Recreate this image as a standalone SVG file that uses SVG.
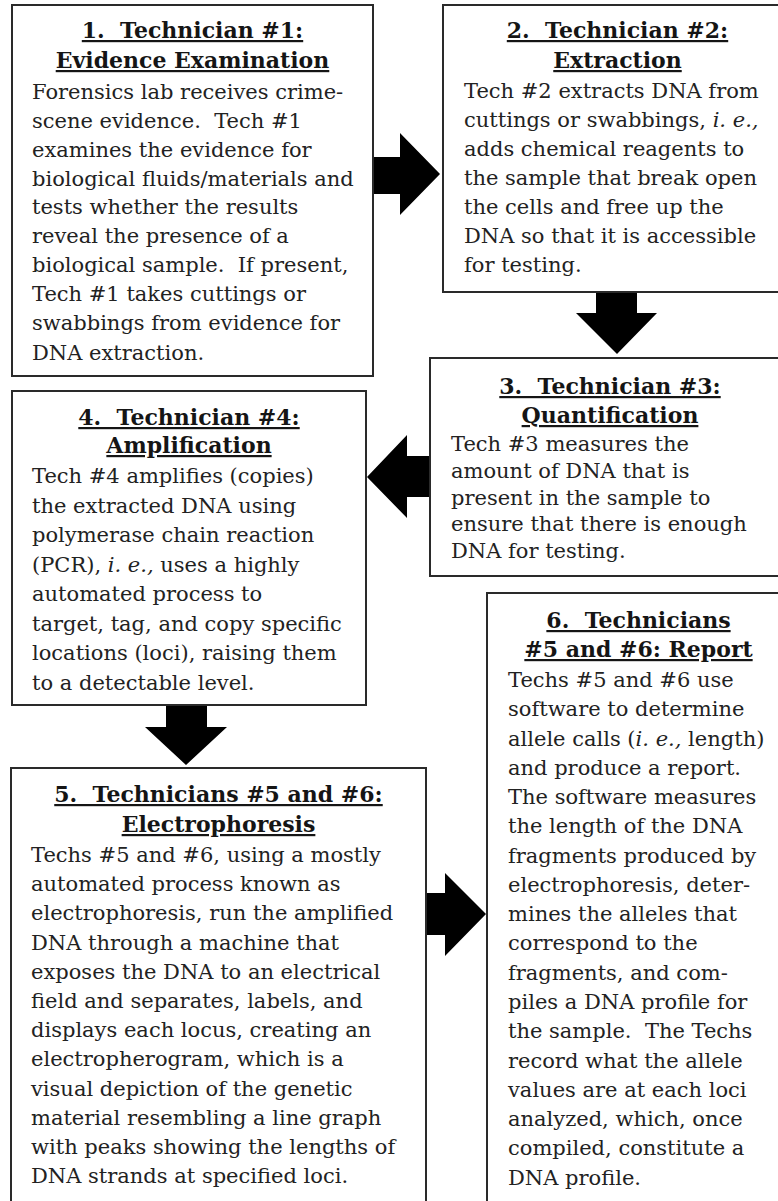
<svg xmlns="http://www.w3.org/2000/svg" width="778" height="1201" viewBox="0 0 778 1201" xml:space="preserve">
<style>
.box{fill:#fff;stroke:#2a2a2a;stroke-width:2}
text{white-space:pre}
.h{font-family:"DejaVu Serif","Liberation Serif",serif;font-size:22px;font-weight:bold;fill:#151515;text-anchor:middle;text-decoration:underline}
.b{font-family:"DejaVu Serif","Liberation Serif",serif;font-size:21px;fill:#222}
.i{font-style:italic}
.arr{fill:#000}
</style>
<rect width="778" height="1201" fill="#fff"/>
<g id="connectors">
<polygon class="arr" points="373,157 400,157 400,133 440,174 400,215 400,194 373,194"/>
<polygon class="arr" points="596,292 637,292 637,313 657,313 617,354 576,313 596,313"/>
<polygon class="arr" points="430,456 407,456 407,435 367,477 407,518 407,497 430,497"/>
<polygon class="arr" points="166,705 207,705 207,727 227,727 186,765 145,727 166,727"/>
<polygon class="arr" points="426,893 445,893 445,873 486,914 445,956 445,935 426,935"/>
</g>
<g id="node1">
<rect class="box" x="12" y="5" width="361" height="371"/>
<text class="h" x="192.5" y="38">1.  Technician #1:</text>
<text class="h" x="192.5" y="68">Evidence Examination</text>
<text class="b" x="32" y="99">Forensics lab receives crime-</text>
<text class="b" x="32" y="128">scene evidence.  Tech #1</text>
<text class="b" x="32" y="157">examines the evidence for</text>
<text class="b" x="32" y="186">biological fluids/materials and</text>
<text class="b" x="32" y="214">tests whether the results</text>
<text class="b" x="32" y="243">reveal the presence of a</text>
<text class="b" x="32" y="272">biological sample.  If present,</text>
<text class="b" x="32" y="301">Tech #1 takes cuttings or</text>
<text class="b" x="32" y="330">swabbings from evidence for</text>
<text class="b" x="32" y="360">DNA extraction.</text>
</g>
<g id="node2">
<rect class="box" x="443" y="5" width="350" height="287"/>
<text class="h" x="617.5" y="38">2.  Technician #2:</text>
<text class="h" x="617.5" y="68">Extraction</text>
<text class="b" x="464" y="98">Tech #2 extracts DNA from</text>
<text class="b" x="464" y="127">cuttings or swabbings, <tspan class="i">i. e.,</tspan></text>
<text class="b" x="464" y="156">adds chemical reagents to</text>
<text class="b" x="464" y="185">the sample that break open</text>
<text class="b" x="464" y="214">the cells and free up the</text>
<text class="b" x="464" y="243">DNA so that it is accessible</text>
<text class="b" x="464" y="272">for testing.</text>
</g>
<g id="node3">
<rect class="box" x="430" y="358" width="362" height="218"/>
<text class="h" x="610" y="394">3.  Technician #3:</text>
<text class="h" x="610" y="423">Quantification</text>
<text class="b" x="451" y="451">Tech #3 measures the</text>
<text class="b" x="451" y="478">amount of DNA that is</text>
<text class="b" x="451" y="505">present in the sample to</text>
<text class="b" x="451" y="531">ensure that there is enough</text>
<text class="b" x="451" y="558">DNA for testing.</text>
</g>
<g id="node4">
<rect class="box" x="12" y="391" width="354" height="314"/>
<text class="h" x="189" y="425">4.  Technician #4:</text>
<text class="h" x="189" y="453">Amplification</text>
<text class="b" x="32" y="483">Tech #4 amplifies (copies)</text>
<text class="b" x="32" y="513">the extracted DNA using</text>
<text class="b" x="32" y="542">polymerase chain reaction</text>
<text class="b" x="32" y="572">(PCR), <tspan class="i">i. e.,</tspan> uses a highly</text>
<text class="b" x="32" y="601">automated process to</text>
<text class="b" x="32" y="631">target, tag, and copy specific</text>
<text class="b" x="32" y="660">locations (loci), raising them</text>
<text class="b" x="32" y="690">to a detectable level.</text>
</g>
<g id="node5">
<rect class="box" x="11" y="768" width="415" height="450"/>
<text class="h" x="218.5" y="802">5.  Technicians #5 and #6:</text>
<text class="h" x="218.5" y="832">Electrophoresis</text>
<text class="b" x="31" y="862">Techs #5 and #6, using a mostly</text>
<text class="b" x="31" y="891">automated process known as</text>
<text class="b" x="31" y="920">electrophoresis, run the amplified</text>
<text class="b" x="31" y="950">DNA through a machine that</text>
<text class="b" x="31" y="979">exposes the DNA to an electrical</text>
<text class="b" x="31" y="1008">field and separates, labels, and</text>
<text class="b" x="31" y="1037">displays each locus, creating an</text>
<text class="b" x="31" y="1066">electropherogram, which is a</text>
<text class="b" x="31" y="1096">visual depiction of the genetic</text>
<text class="b" x="31" y="1125">material resembling a line graph</text>
<text class="b" x="31" y="1154">with peaks showing the lengths of</text>
<text class="b" x="31" y="1183">DNA strands at specified loci.</text>
</g>
<g id="node6">
<rect class="box" x="487" y="593" width="303" height="620"/>
<text class="h" x="638.5" y="628">6.  Technicians</text>
<text class="h" x="638.5" y="657">#5 and #6: Report</text>
<text class="b" x="508" y="687">Techs #5 and #6 use</text>
<text class="b" x="508" y="716">software to determine</text>
<text class="b" x="508" y="746">allele calls (<tspan class="i">i. e.,</tspan> length)</text>
<text class="b" x="508" y="775">and produce a report.</text>
<text class="b" x="508" y="804">The software measures</text>
<text class="b" x="508" y="833">the length of the DNA</text>
<text class="b" x="508" y="863">fragments produced by</text>
<text class="b" x="508" y="892">electrophoresis, deter-</text>
<text class="b" x="508" y="921">mines the alleles that</text>
<text class="b" x="508" y="950">correspond to the</text>
<text class="b" x="508" y="980">fragments, and com-</text>
<text class="b" x="508" y="1009">piles a DNA profile for</text>
<text class="b" x="508" y="1038">the sample.  The Techs</text>
<text class="b" x="508" y="1068">record what the allele</text>
<text class="b" x="508" y="1097">values are at each loci</text>
<text class="b" x="508" y="1126">analyzed, which, once</text>
<text class="b" x="508" y="1155">compiled, constitute a</text>
<text class="b" x="508" y="1185">DNA profile.</text>
</g>
</svg>
